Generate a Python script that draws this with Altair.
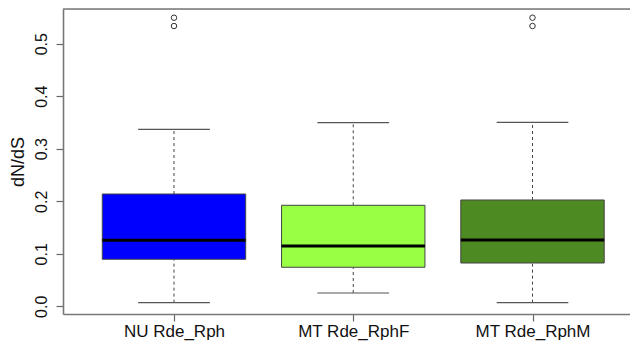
import altair as alt
import pandas as pd

categories = ["NU Rde_Rph", "MT Rde_RphF", "MT Rde_RphM"]
positions = [1, 2, 3]
fills = ["#0000FF", "#99FF44", "#4E8A22"]
q1 = [0.0895, 0.0743, 0.0824]
median = [0.1257, 0.1148, 0.1262]
q3 = [0.2138, 0.1923, 0.2024]
whisker_lo = [0.0069, 0.0253, 0.0069]
whisker_hi = [0.337, 0.3496, 0.3503]
outlier_pos = [1, 1, 3, 3]
outlier_val = [0.5495, 0.5337, 0.5495, 0.5337]
y_ticks = [0.0, 0.1, 0.2, 0.3, 0.4, 0.5]

X_DOMAIN = [0.3808, 3.5439]
Y_DOMAIN = [-0.0147, 0.5661]
FONT = "Liberation Sans"

box = pd.DataFrame({
    "cat": categories, "pos": positions, "fill": fills,
    "q1": q1, "med": median, "q3": q3, "lo": whisker_lo, "hi": whisker_hi,
})
outl = pd.DataFrame({"pos": outlier_pos, "val": outlier_val})
frame = pd.DataFrame({"x": [X_DOMAIN[0]], "x2": [X_DOMAIN[1]], "y": [Y_DOMAIN[1]]})

label_expr = ("datum.value == 1 ? '%s' : datum.value == 2 ? '%s' : datum.value == 3 ? '%s' : ''"
              % tuple(categories))

xscale = alt.Scale(domain=X_DOMAIN, nice=False, zero=False)
yscale = alt.Scale(domain=Y_DOMAIN, nice=False, zero=False)

xaxis = alt.Axis(values=positions, labelExpr=label_expr, title=None, grid=False,
                 tickSize=7, tickColor="#666", tickWidth=1.2, domainColor="#777", domainWidth=1.6,
                 labelFont=FONT, labelFontSize=17, labelColor="#111", labelPadding=2)
yaxis = alt.Axis(values=y_ticks, format=".1f", title="dN/dS", grid=False,
                 tickSize=7, tickColor="#666", tickWidth=1.2, domainColor="#777", domainWidth=1.6,
                 labelAngle=-90, labelAlign="center", labelBaseline="alphabetic", labelPadding=10,
                 labelFont=FONT, labelFontSize=16, labelColor="#111",
                 titleFont=FONT, titleFontSize=18, titleFontWeight="normal", titleColor="#111",
                 titlePadding=6)

base = alt.Chart(box).transform_calculate(
    left="datum.pos - 0.4", right="datum.pos + 0.4",
    cl="datum.pos - 0.2", cr="datum.pos + 0.2",
)

axes = alt.Chart(frame).mark_rule(strokeWidth=1.6, color="#777").encode(
    x=alt.X("x:Q", scale=xscale, axis=xaxis),
    x2="x2:Q",
    y=alt.Y("y:Q", scale=yscale, axis=yaxis),
)

whisk_lo = base.mark_rule(color="#444", strokeDash=[3, 3], strokeWidth=1).encode(
    x="pos:Q", y="lo:Q", y2="q1:Q")
whisk_hi = base.mark_rule(color="#444", strokeDash=[3, 3], strokeWidth=1).encode(
    x="pos:Q", y="q3:Q", y2="hi:Q")
cap_lo = base.mark_rule(color="#555", strokeWidth=1.2).encode(x="cl:Q", x2="cr:Q", y="lo:Q")
cap_hi = base.mark_rule(color="#555", strokeWidth=1.2).encode(x="cl:Q", x2="cr:Q", y="hi:Q")
rect = base.mark_rect(stroke="#444", strokeWidth=1).encode(
    x="left:Q", x2="right:Q", y="q1:Q", y2="q3:Q",
    fill=alt.Fill("fill:N", scale=None))
med = base.mark_rule(color="#000", strokeWidth=3).encode(x="left:Q", x2="right:Q", y="med:Q")
pts = alt.Chart(outl).mark_point(shape="circle", filled=False, size=30, color="#333",
                                 strokeWidth=1, opacity=1).encode(x="pos:Q", y="val:Q")

chart = alt.layer(axes, whisk_lo, whisk_hi, cap_lo, cap_hi, rect, med, pts).properties(
    width=567, height=305,
    autosize=alt.AutoSizeParams(type="none"),
    padding={"left": 55, "top": 1, "right": 0, "bottom": 27},
).configure_view(stroke=None).configure(background="white")

chart.save("out.html", embed_options={"renderer": "svg", "actions": False})
